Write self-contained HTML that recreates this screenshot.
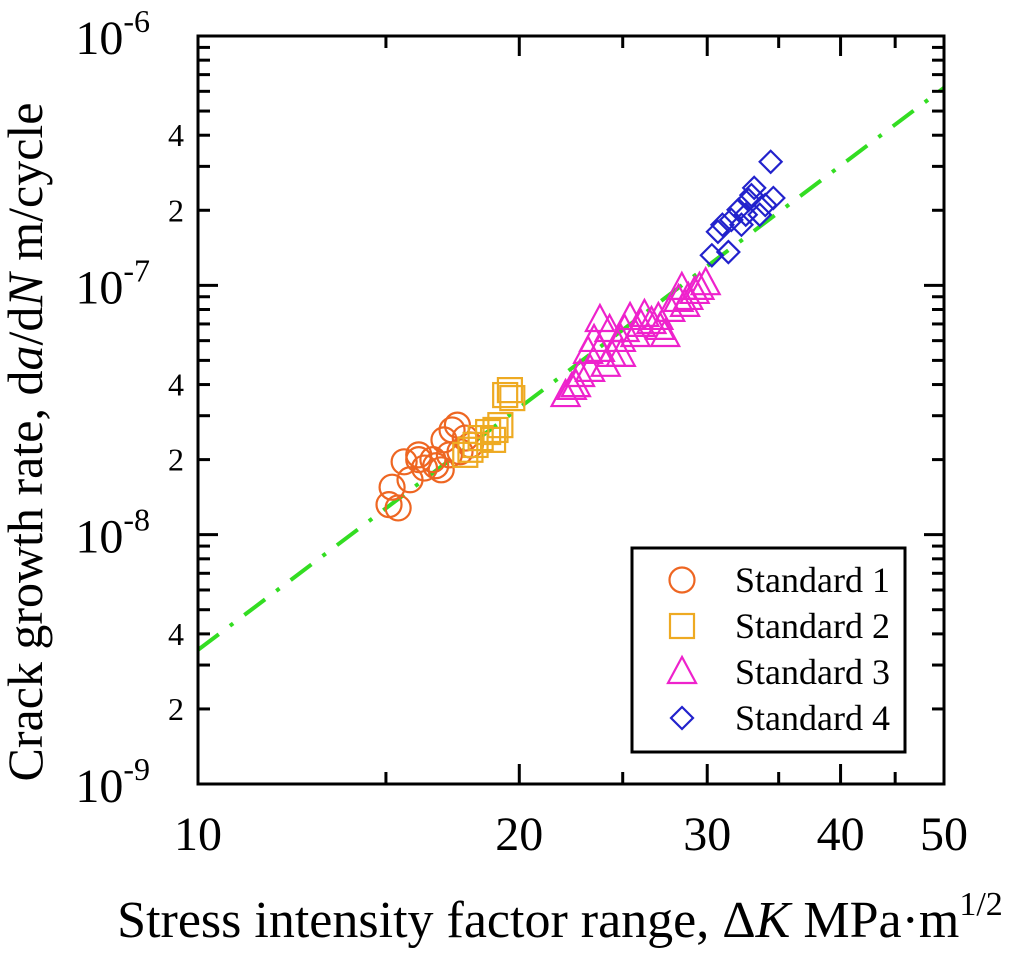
<!DOCTYPE html>
<html><head><meta charset="utf-8">
<style>
html,body{margin:0;padding:0;background:#fff;}
svg{display:block;font-family:"Liberation Serif",serif;}
</style></head>
<body>
<svg id="chart" width="1024" height="954" viewBox="0 0 1024 954" xmlns="http://www.w3.org/2000/svg">
<g id="grid"></g>
<g id="marks"></g>
<g id="frame"></g>
</svg>
<script>
const s1K=[15.2,15.4,15.6,15.8,16.1,16.3,16.6,16.9,17.0,17.3,17.5,17.8,18.0,17.2,15.1,16.1,17.6,16.7];
const s1R=[1.55e-8,1.28e-8,1.96e-8,1.66e-8,2.09e-8,1.85e-8,2.0e-8,1.82e-8,2.40e-8,2.63e-8,2.75e-8,2.44e-8,2.29e-8,2.09e-8,1.32e-8,2.0e-8,2.15e-8,1.89e-8];
const s2K=[17.8,18.2,18.4,18.7,19.0,19.2,19.4,19.6,19.7,18.0,18.9];
const s2R=[2.09e-8,2.29e-8,2.44e-8,2.58e-8,2.63e-8,2.75e-8,3.63e-8,3.80e-8,3.53e-8,2.19e-8,2.40e-8];
const s3K=[22.1,22.4,22.8,23.2,23.5,23.8,24.1,24.4,24.9,25.1,25.4,26.0,26.2,26.6,27.0,27.4,27.7,28.2,28.4,28.8,29.2,29.5,29.9,22.6,23.3,24.3,25.7,27.1,28.6,23.8,24.9];
const s3R=[3.63e-8,3.88e-8,4.37e-8,5.41e-8,6.04e-8,7.26e-8,4.80e-8,5.26e-8,6.04e-8,6.62e-8,7.40e-8,6.94e-8,7.61e-8,7.13e-8,7.40e-8,6.32e-8,7.97e-8,8.74e-8,9.77e-8,8.90e-8,9.41e-8,9.77e-8,1.02e-7,3.98e-8,4.58e-8,6.62e-8,6.32e-8,6.75e-8,8.35e-8,5.51e-8,5.26e-8];
const s4K=[30.3,30.7,31.0,31.4,31.6,32.1,32.3,32.8,33.0,33.2,33.6,34.0,34.4,34.6,32.6];
const s4R=[1.32e-7,1.64e-7,1.75e-7,1.36e-7,1.83e-7,2.01e-7,1.75e-7,2.20e-7,2.30e-7,2.46e-7,1.92e-7,2.10e-7,3.13e-7,2.24e-7,1.92e-7];
const fitK=[10,50];
const fitR=[3.45e-9,6.2e-7];
const xMajor=[10,20,30,40,50];
const xMinor=[15,25,35,45];
const yDecades=[-9,-8,-7,-6];

const L=198,R=944,T=36,B=784;
const NS='http://www.w3.org/2000/svg';
function X(k){return L+(Math.log10(k)-1)/Math.log10(5)*(R-L);}
function Y(v){return B-(Math.log10(v)+9)/3*(B-T);}
function mk(tag,attrs,parent){const e=document.createElementNS(NS,tag);for(const a in attrs)e.setAttribute(a,attrs[a]);parent.appendChild(e);return e;}
const marks=document.getElementById('marks'),frame=document.getElementById('frame');

const fit=mk('line',{x1:X(fitK[0]),y1:Y(fitR[0]),x2:X(fitK[1]),y2:Y(fitR[1]),stroke:'#33dd22','stroke-width':4,'stroke-dasharray':'26 14 4 14'},marks);



function circle(x,y,p,c){return mk('circle',{cx:x,cy:y,r:12.5,fill:'none',stroke:c,'stroke-width':2.2},p);}
function square(x,y,p,c){return mk('rect',{x:x-12,y:y-12,width:24,height:24,fill:'none',stroke:c,'stroke-width':2.2},p);}
function tri(x,y,p,c){return mk('polygon',{points:`${x},${y-15} ${x-14},${y+11} ${x+14},${y+11}`,fill:'none',stroke:c,'stroke-width':2.2},p);}
function dia(x,y,p,c){return mk('polygon',{points:`${x},${y-11} ${x+11},${y} ${x},${y+11} ${x-11},${y}`,fill:'none',stroke:c,'stroke-width':2.2},p);}
const series=[[s1K,s1R,circle,'#ee6622','standard-1'],[s2K,s2R,square,'#eeaa22','standard-2'],[s3K,s3R,tri,'#ee22cc','standard-3'],[s4K,s4R,dia,'#2222cc','standard-4']];
series.forEach(([ks,rs,f,c,n])=>{
  const g=mk('g',{},marks);
  
  
  ks.forEach((k,i)=>{const e=f(X(k),Y(rs[i]),g,c);
    
    });
});

const fr=mk('rect',{x:L,y:T,width:R-L,height:B-T,fill:'none',stroke:'#000','stroke-width':3},frame);


function tick(x1,y1,x2,y2){const t=mk('line',{x1,y1,x2,y2,stroke:'#000','stroke-width':3},frame);
  
  }
function text(x,y,s,size,anchor,name){const t=mk('text',{x,y,'font-size':size,'text-anchor':anchor||'middle'},frame);t.textContent=s;
  
  return t;}
xMajor.forEach(k=>{const x=X(k);tick(x,B,x,B-20);tick(x,T,x,T+20);text(x,850,String(k),48,'middle','x-tick-label');});
xMinor.forEach(k=>{const x=X(k);tick(x,B,x,B-12);tick(x,T,x,T+12);});
yDecades.forEach(d=>{const y=Y(Math.pow(10,d));
  tick(L,y,L+20,y);tick(R,y,R-20,y);
  const t=text(150,y+18,'10',48,'end','y-tick-label');
  const sp=mk('tspan',{dy:-22,'font-size':32},t);sp.textContent=String(d);
  if(d<-6){for(let m=2;m<=9;m++){const yy=Y(m*Math.pow(10,d));tick(L,yy,L+12,yy);tick(R,yy,R-12,yy);
    if(m==2||m==4)text(184,yy+11,String(m),32,'end','y-minor-label');}}
});
const yt=text(0,0,'',50,'middle','y-axis-title');
yt.setAttribute('transform','translate(42,442) rotate(-90)');
yt.innerHTML='Crack growth rate, d<tspan font-style="italic">a</tspan>/d<tspan font-style="italic">N</tspan> m/cycle';
const xt=text(560,937,'',52,'middle','x-axis-title');
xt.innerHTML='Stress intensity factor range, Δ<tspan font-style="italic">K</tspan> MPa·m<tspan dy="-22" font-size="34">1/2</tspan>';

const lg=mk('g',{},frame);


mk('rect',{x:632,y:548,width:273,height:204,fill:'#fff',stroke:'#000','stroke-width':3},lg);
const names=['Standard 1','Standard 2','Standard 3','Standard 4'];
series.forEach(([ks,rs,f,c,n],i)=>{const y=580+i*46;
  const m=f(682,y,lg,c);
  
  
  const t=mk('text',{x:735,y:y+12,'font-size':36},lg);t.textContent=names[i];
  
  
});
</script>
</body></html>
